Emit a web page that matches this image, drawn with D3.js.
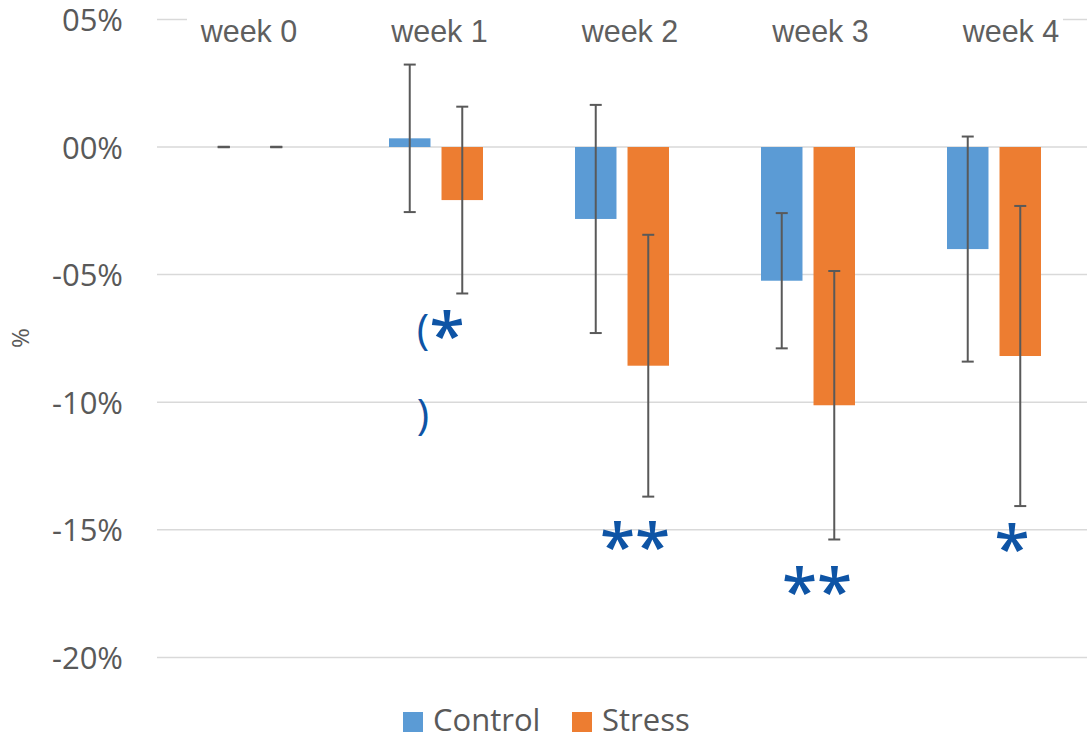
<!DOCTYPE html>
<html>
<head>
<meta charset="utf-8">
<script src="https://cdn.jsdelivr.net/npm/d3@7"></script>
<style>
    body { margin: 0; background: #fff; }
    svg { display: block; }
</style>
</head>
<body>
<div id="chart"></div>
<script>
// data (percent change)
const weeks = ['week 0', 'week 1', 'week 2', 'week 3', 'week 4']
const seriesNames = ['Control', 'Stress']
const controlMeans = [0, 0.34, -2.82, -5.24, -4.0]
const controlErrors = [0, 2.89, 4.47, 2.65, 4.41]
const stressMeans = [0, -2.08, -8.57, -10.12, -8.19]
const stressErrors = [0, 3.66, 5.13, 5.26, 5.88]
const yTicks = [5, 0, -5, -10, -15, -20]
const colors = ['#5B9BD5', '#ED7D31']

// significance marks: y is the baseline in % units, dx is offset from week centre
const annotations = [
    { week: 'week 1', text: '(', y: -7.72, dx: -13, size: 42, weight: 400 },
    { week: 'week 1', text: '*', y: -8.27, dx: 11, size: 64, weight: 600 },
    { week: 'week 1', text: ')', y: -11.05, dx: -13, size: 42, weight: 400 },
    { week: 'week 2', text: '**', y: -16.54, dx: 13, size: 64, weight: 600 },
    { week: 'week 3', text: '**', y: -18.3, dx: 9, size: 64, weight: 600 },
    { week: 'week 4', text: '*', y: -16.6, dx: 18, size: 64, weight: 600 }
]

const config = {
    width: 1087,
    height: 740,
    plotLeft: 157,
    plotRight: 1087,
    plotTop: 19.4,
    plotBottom: 657.4
}

const rows = weeks.map((w, i) => ({
    week: w,
    values: [
        { series: 'Control', mean: controlMeans[i], err: controlErrors[i] },
        { series: 'Stress', mean: stressMeans[i], err: stressErrors[i] }
    ]
}))

const svg = d3.select('#chart').append('svg')
    .attr('width', config.width)
    .attr('height', config.height)

const x0 = d3.scaleBand()
    .domain(weeks)
    .range([config.plotLeft, config.plotRight])
    .padding(0)

const x1 = d3.scaleBand()
    .domain(seriesNames)
    .range([46, 140])
    .paddingInner(0.21)

const labelX = d3.scalePoint()
    .domain(weeks)
    .range([249, 1011])

const y = d3.scaleLinear()
    .domain([-20, 5])
    .range([config.plotBottom, config.plotTop])

const color = d3.scaleOrdinal().domain(seriesNames).range(colors)

const fmt = d => (d < 0 ? '-' : '') + String(Math.abs(d)).padStart(2, '0') + '%'

// gridlines
svg.append('g')
    .selectAll('line')
    .data(yTicks)
    .join('line')
    .attr('x1', config.plotLeft)
    .attr('x2', config.plotRight)
    .attr('y1', d => y(d))
    .attr('y2', d => y(d))
    .attr('stroke', '#d9d9d9')
    .attr('stroke-width', 1.5)

// y axis labels
const yAxis = d3.axisLeft(y).tickValues(yTicks).tickFormat(fmt).tickSize(0).tickPadding(0)
const yAxisGroup = svg.append('g')
    .attr('transform', 'translate(123,0)')
    .call(yAxis)
yAxisGroup.select('.domain').remove()
yAxisGroup.selectAll('text')
    .attr('font-family', '"Open Sans", sans-serif')
    .attr('font-size', 31)
    .attr('fill', '#595959')
    .attr('dy', '0.36em')

svg.append('text')
    .attr('transform', 'translate(29,338) rotate(-90)')
    .attr('text-anchor', 'middle')
    .attr('font-family', '"Open Sans", sans-serif')
    .attr('font-size', 24)
    .attr('fill', '#595959')
    .text('%')

// bars
const groups = svg.append('g')
    .selectAll('g')
    .data(rows)
    .join('g')
    .attr('transform', d => `translate(${x0(d.week)},0)`)

groups.selectAll('rect')
    .data(d => d.values)
    .join('rect')
    .attr('x', d => x1(d.series))
    .attr('width', x1.bandwidth())
    .attr('y', d => y(Math.max(0, d.mean)))
    .attr('height', d => Math.abs(y(d.mean) - y(0)))
    .attr('fill', d => color(d.series))

// error bars
const errG = groups.selectAll('g.err')
    .data(d => d.values)
    .join('g')
    .attr('class', 'err')
    .attr('transform', d => `translate(${x1(d.series) + x1.bandwidth() / 2},0)`)
    .attr('stroke', '#595959')
    .attr('stroke-width', 2)

errG.append('line')
    .attr('y1', d => y(d.mean + d.err))
    .attr('y2', d => y(d.mean - d.err))
errG.append('line')
    .attr('x1', -6).attr('x2', 6)
    .attr('y1', d => y(d.mean + d.err))
    .attr('y2', d => y(d.mean + d.err))
    .attr('stroke-width', d => d.err === 0 ? 2.5 : 2)
errG.append('line')
    .attr('x1', -6).attr('x2', 6)
    .attr('y1', d => y(d.mean - d.err))
    .attr('y2', d => y(d.mean - d.err))

// category labels at the top, with white boxes over the 5% gridline
svg.append('rect')
    .attr('x', 187)
    .attr('y', y(5) - 3)
    .attr('width', 876)
    .attr('height', 6)
    .attr('fill', '#fff')

svg.append('g')
    .selectAll('text')
    .data(weeks)
    .join('text')
    .attr('x', d => labelX(d))
    .attr('y', 42)
    .attr('text-anchor', 'middle')
    .attr('font-family', '"Liberation Sans", Arial, sans-serif')
    .attr('font-size', 30.5)
    .attr('fill', '#5f5f5f')
    .text(d => d)

// significance annotations
svg.append('g')
    .selectAll('text')
    .data(annotations)
    .join('text')
    .attr('x', d => x0(d.week) + x0.bandwidth() / 2 + d.dx)
    .attr('y', d => y(d.y))
    .attr('text-anchor', 'middle')
    .attr('font-family', '"Open Sans", sans-serif')
    .attr('font-size', d => d.size)
    .attr('font-weight', d => d.weight)
    .attr('fill', '#0E54A5')
    .text(d => d.text)

// legend
const legend = svg.append('g')
    .selectAll('g')
    .data(seriesNames)
    .join('g')
    .attr('transform', (d, i) => `translate(${403 + i * 169},712)`)

legend.append('rect')
    .attr('width', 20)
    .attr('height', 20)
    .attr('fill', d => color(d))

legend.append('text')
    .attr('x', 30)
    .attr('y', 19)
    .attr('font-family', '"Open Sans", sans-serif')
    .attr('font-size', 31)
    .attr('fill', '#595959')
    .text(d => d)
</script>
</body>
</html>
